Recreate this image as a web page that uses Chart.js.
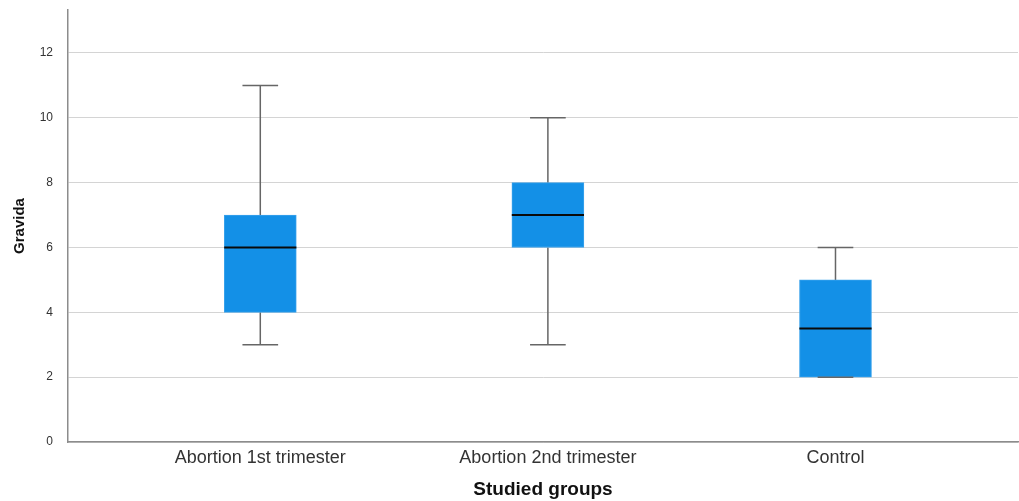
<!DOCTYPE html>
<html>
<head>
<meta charset="utf-8">
<script src="https://cdn.jsdelivr.net/npm/chart.js@4"></script>
<style>
  html, body { margin: 0; padding: 0; background: #ffffff; }
  #wrap { width: 1019px; height: 501px; }
</style>
</head>
<body>
<div id="wrap"><canvas id="c" width="1019" height="501"></canvas></div>
<script>
// Box plot of gravida by studied group
const groups = ['Abortion 1st trimester', 'Abortion 2nd trimester', 'Control'];
const minVals = [3, 3, 2];
const q1Vals = [4, 6, 2];
const medianVals = [6, 7, 3.5];
const q3Vals = [7, 8, 5];
const maxVals = [11, 10, 6];
const yTicks = [0, 2, 4, 6, 8, 10, 12];

const positions = groups.map((_, i) => i + 1);
const BOX_HALF = 0.1255;   // half box width in x units
const CAP_HALF = 0.062;    // half whisker cap width in x units

const boxData = positions.map((x, i) => ({ x: x, y: [q1Vals[i], q3Vals[i]] }));

const stemData = [];
const capData = [];
const medData = [];
positions.forEach((x, i) => {
  stemData.push({ x: x, y: maxVals[i] }, { x: x, y: q3Vals[i] }, { x: x, y: null });
  stemData.push({ x: x, y: q1Vals[i] }, { x: x, y: minVals[i] }, { x: x, y: null });
  capData.push({ x: x - CAP_HALF, y: maxVals[i] }, { x: x + CAP_HALF, y: maxVals[i] }, { x: x, y: null });
  capData.push({ x: x - CAP_HALF, y: minVals[i] }, { x: x + CAP_HALF, y: minVals[i] }, { x: x, y: null });
  medData.push({ x: x - BOX_HALF, y: medianVals[i] }, { x: x + BOX_HALF, y: medianVals[i] }, { x: x, y: null });
});

const lineStyle = (color, width) => ({
  type: 'line',
  borderColor: color,
  borderWidth: width,
  pointRadius: 0,
  spanGaps: false,
  fill: false,
  tension: 0,
  borderCapStyle: 'butt'
});

const FONT = "'Liberation Sans', Arial, sans-serif";

new Chart(document.getElementById('c'), {
  data: {
    datasets: [
      Object.assign(lineStyle('#666666', 1.5), { data: stemData, order: 3 }),
      {
        type: 'bar',
        data: boxData,
        backgroundColor: '#1390e7',
        borderColor: '#3aa2ec',
        borderWidth: 1,
        borderSkipped: false,
        barThickness: 72,
        order: 2
      },
      Object.assign(lineStyle('#666666', 1.5), { data: capData, order: 1 }),
      Object.assign(lineStyle('#0a0a0a', 2), { data: medData, order: 0 })
    ]
  },
  options: {
    responsive: false,
    animation: false,
    layout: { padding: { top: 10, right: 1, left: 0, bottom: 0 } },
    plugins: { legend: { display: false }, tooltip: { enabled: false } },
    scales: {
      x: {
        type: 'linear',
        min: 0.3314,
        max: 3.6346,
        offset: false,
        afterFit: (s) => { s.height = 59; s.paddingLeft = 0; s.paddingRight = 0; },
        afterBuildTicks: (s) => { s.ticks = positions.map(v => ({ value: v })); },
        ticks: {
          autoSkip: false,
          maxRotation: 0,
          padding: 5,
          color: '#333333',
          font: { family: FONT, size: 18 },
          callback: (v) => groups[Math.round(v) - 1]
        },
        grid: { display: false, drawTicks: false },
        border: { display: true, color: '#8c8c8c', width: 1.5 },
        title: {
          display: true,
          text: 'Studied groups',
          color: '#111111',
          font: { family: FONT, size: 19, weight: 'bold' },
          padding: { top: 0, bottom: 0 }
        }
      },
      y: {
        type: 'linear',
        min: 0,
        max: 13.326,
        afterFit: (s) => { s.width = 68; s.paddingTop = 0; s.paddingBottom = 0; },
        afterBuildTicks: (s) => { s.ticks = yTicks.map(v => ({ value: v })); },
        ticks: {
          padding: 15,
          color: '#333333',
          font: { family: FONT, size: 12 }
        },
        grid: { color: '#d4d4d4', lineWidth: 1, drawTicks: false },
        border: { display: true, color: '#8c8c8c', width: 1.5 },
        title: {
          display: true,
          text: 'Gravida',
          color: '#111111',
          font: { family: FONT, size: 15, weight: 'bold' },
          padding: { top: 11, bottom: 0 }
        }
      }
    }
  }
});
</script>
</body>
</html>
